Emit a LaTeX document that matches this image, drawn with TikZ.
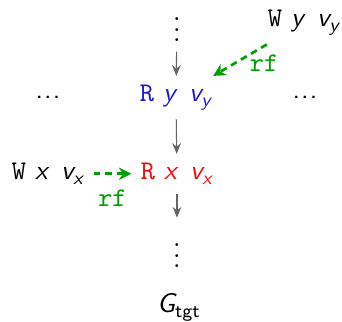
\documentclass[tikz,border=0pt]{standalone}
\usepackage{amsmath}
\usetikzlibrary{arrows.meta}
\definecolor{rdblue}{RGB}{25,25,215}
\definecolor{rdred}{RGB}{240,10,10}
\definecolor{rfgreen}{RGB}{0,160,0}
\newcommand{\sfv}[1]{\textsf{\itshape #1}}
\newcommand{\evt}[3]{\texttt{#1}~$\sfv{#2}$\enskip$\sfv{#3}_{\sfv{#2}}$}
\newcommand{\moredots}{\textsf{.\kern0.4pt.\kern0.4pt.}}
\begin{document}
\begin{tikzpicture}[x=0.37pt, y=-0.37pt,
  ev/.style={anchor=base},
  po/.style={draw=black!60, thin, -{Stealth[length=4pt, width=3.2pt]}},
  rfarr/.style={draw=rfgreen, line width=1pt, dash pattern=on 2.5pt off 1.8pt, -{Stealth[length=4.6pt, width=4.6pt]}},
  rflab/.style={text=rfgreen, font=\ttfamily}]
\useasboundingbox (0,0) rectangle (342,322);
\node[ev] (top) at (177,42) {$\vdots$};
\node[ev, text=rdblue] (ry) at (176,102) {\evt{R}{y}{v}};
\node[ev] (lft) at (48,99) {\moredots};
\node[ev] (rgt) at (305,99) {\moredots};
\node[ev] (wy) at (304,27) {\evt{W}{y}{v}};
\node[ev, text=rdred] (rx) at (177,180) {\evt{R}{x}{v}};
\node[ev] (wx) at (48,180) {\evt{W}{x}{v}};
\node[ev] (bot) at (177,268) {$\vdots$};
\node[ev] (gt) at (179,313) {$\sfv{G}_{\textsf{tgt}}$};
\draw[po] (top) -- (ry);
\draw[po] (ry) -- (rx);
\draw[po] (rx) -- (bot);
\draw[rfarr] (wy) -- node[rflab, pos=0, below, xshift=-1pt] {rf} (ry);
\draw[rfarr] (wx) -- node[rflab, below=2pt] {rf} (rx);
\end{tikzpicture}
\end{document}
